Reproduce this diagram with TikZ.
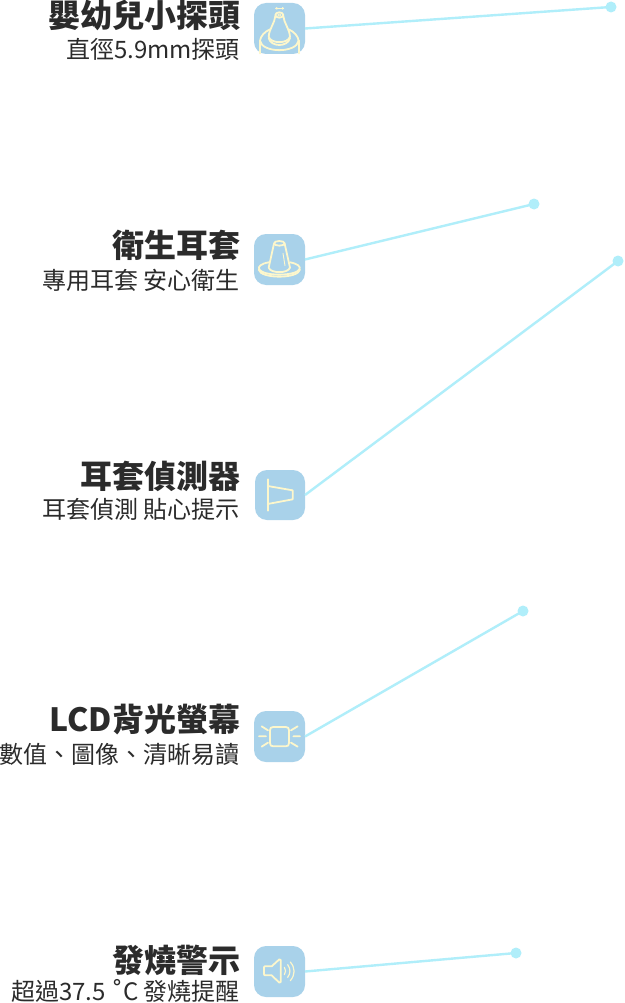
\documentclass[tikz,border=0pt]{standalone}
\usepackage{fontspec}
\setmainfont{Noto Sans CJK TC}
\newfontfamily\symfont{DejaVu Sans}
\definecolor{boxc}{HTML}{A9D2EA}
\definecolor{iconc}{HTML}{FDF7CC}
\definecolor{linkc}{HTML}{B0EEFA}
\definecolor{txtc}{HTML}{2B2B2B}
\tikzset{
  iconbox/.style={draw=none,fill=boxc,rounded corners=12pt,minimum width=51pt,minimum height=51pt,inner sep=0pt,outer sep=0pt},
  dotnode/.style={circle,fill=linkc,draw=none,minimum size=11pt,inner sep=0pt,outer sep=0pt},
  linkline/.style={draw=linkc,line width=2.4pt},
  titletext/.style={anchor=east,inner sep=0pt,text=txtc,font=\bfseries\fontsize{32}{32}\selectfont},
  subtext/.style={anchor=east,inner sep=0pt,text=txtc,font=\fontsize{24}{24}\selectfont},
  icon/.style={draw=iconc,line width=1.8pt,line cap=round,line join=round},
  zoomA/.style={shift={(240,#1)},x=0.3333pt,y=-0.3333pt}
}
\begin{document}
\begin{tikzpicture}[x=1pt,y=-1pt]
\useasboundingbox (0,0) rectangle (624,1003);
\fill[white] (0,0) rectangle (624,1003);
\node[iconbox] (b1) at (279.5,28.5) {};
\node[iconbox] (b2) at (279.5,259.5) {};
\node[iconbox,minimum width=50pt,minimum height=50pt] (b3) at (280,495) {};
\node[iconbox] (b4) at (279.5,736.5) {};
\node[iconbox] (b5) at (279.5,971.5) {};
\node[dotnode] (d1) at (611,7) {};
\node[dotnode] (d2) at (534,204) {};
\node[dotnode] (d3) at (618,261) {};
\node[dotnode] (d4) at (523,611) {};
\node[dotnode] (d5) at (516,953) {};
\draw[linkline] (b1.east) -- (d1.center);
\draw[linkline] (b2.east) -- (d2.center);
\draw[linkline] (b3.east) -- (d3.center);
\draw[linkline] (b4.east) -- (d4.center);
\draw[linkline] (b5.east) -- (d5.center);
% text
\node[titletext] (t1) at (240.2,15) {嬰幼兒小探頭};
\node[subtext] (s1) at (240,49) {直徑5.9mm探頭};
\node[titletext] (t2) at (240.2,245) {衛生耳套};
\node[subtext] (s2) at (240,280) {專用耳套 安心衛生};
\node[titletext] (t3) at (240.2,476) {耳套偵測器};
\node[subtext] (s3) at (240,509) {耳套偵測 貼心提示};
\node[titletext] (t4) at (240.2,720) {LCD背光螢幕};
\node[subtext] (s4) at (240,754) {數值、圖像、清晰易讀};
\node[titletext] (t5) at (240.2,960) {發燒警示};
\node[subtext] (s5) at (240,991) {超過37.5 {\symfont ˚}C 發燒提醒};
% icon 1
\begin{scope}[zoomA=0]
\draw[icon,line width=0.7pt] (107,25) -- (131,25);
\draw[icon,line width=0.7pt] (111,22) -- (107,25) -- (111,28) (127,22) -- (131,25) -- (127,28);
\draw[icon] (118,45) ellipse [x radius=12,y radius=8];
\draw[icon,line width=0.8pt] (118,45) ellipse [x radius=5,y radius=3.5];
\draw[icon] (106,48) .. controls (104,70) and (88,85) .. (86,110) .. controls (92,132) and (144,132) .. (150,110) .. controls (148,85) and (132,70) .. (130,48);
\draw[icon] (86,114) .. controls (92,142) and (144,142) .. (150,114);
\draw[icon] (60,122) .. controls (62,108) and (74,95) .. (90,88);
\draw[icon] (176,122) .. controls (174,108) and (162,95) .. (146,88);
\draw[icon] (60,122) .. controls (66,160) and (170,160) .. (176,122);
\draw[icon] (60,122) -- (60,160) (176,122) -- (176,160);
\end{scope}
% icon 2
\begin{scope}[zoomA=225]
\draw[icon] (118,55) ellipse [x radius=16,y radius=7];
\draw[icon] (102,56) -- (86,128) .. controls (92,146) and (144,146) .. (150,128) -- (134,56);
\draw[icon,line width=0.9pt] (129,85) -- (135,122);
\draw[icon] (86,112) .. controls (40,120) and (46,148) .. (118,149) .. controls (190,148) and (196,120) .. (150,112);
\draw[icon] (56,134) .. controls (62,162) and (174,162) .. (180,134);
\end{scope}
% icon 3
\begin{scope}[zoomA=462]
\draw[icon] (83,52) -- (83,146);
\draw[icon] (83,72) -- (158,85) -- (158,112) -- (83,126);
\end{scope}
% icon 4
\begin{scope}[zoomA=703]
\draw[icon] (90,82) .. controls (90,75) and (93,72) .. (100,72) -- (137,72) .. controls (144,72) and (147,75) .. (147,82) -- (147,120) .. controls (147,127) and (144,130) .. (137,130) -- (100,130) .. controls (93,130) and (90,127) .. (90,120) -- cycle;
\draw[icon] (57,100) -- (78,100) (65,70) -- (84,82) (65,131) -- (84,119);
\draw[icon] (160,100) -- (180,100) (153,82) -- (173,70) (153,119) -- (173,131);
\end{scope}
% icon 5
\begin{scope}[zoomA=938]
\draw[icon] (72,88) -- (72,108) -- (74,112) -- (95,112) -- (118,134) -- (122,132) -- (122,66) -- (118,64) -- (95,85) -- (74,85) -- cycle;
\draw[icon,line width=1.2pt] (133,88) .. controls (138,94) and (138,104) .. (133,110);
\draw[icon,line width=1.2pt] (143,80) .. controls (152,92) and (152,106) .. (143,118);
\draw[icon,line width=1.2pt] (151,72) .. controls (166,90) and (166,110) .. (151,128);
\end{scope}
\end{tikzpicture}
\end{document}
